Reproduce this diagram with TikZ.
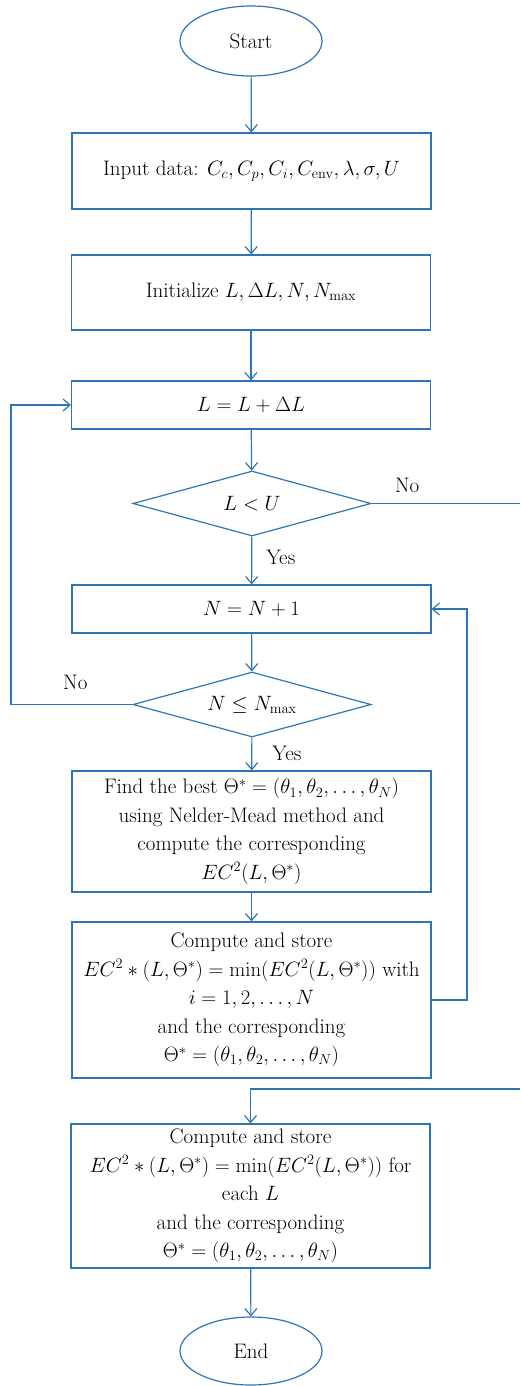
\documentclass[tikz,border=0pt]{standalone}
\usepackage{tikz}
\usetikzlibrary{shapes.geometric,arrows.meta}
\definecolor{flowblue}{RGB}{46,117,182}
\tikzset{
	procbox/.style={draw=flowblue, line width=1.2pt, rectangle, minimum width=359pt, inner sep=0pt, align=center, font=\fontsize{21}{28.5}\selectfont},
	decbox/.style={draw=flowblue, line width=1.2pt, diamond, aspect=3.66, minimum width=238pt, minimum height=65pt, inner sep=0pt, font=\fontsize{21}{25}\selectfont},
	termbox/.style={draw=flowblue, line width=1.2pt, ellipse, minimum width=142pt, minimum height=70pt, inner sep=0pt, font=\fontsize{21}{25}\selectfont},
	flow/.style={draw=flowblue, line width=1.2pt, -{Straight Barb[length=7pt,width=12pt]}},
	plain/.style={draw=flowblue, line width=1.2pt},
	lbl/.style={font=\fontsize{21}{25}\selectfont, inner sep=0pt}
}

\begin{document}
\begin{tikzpicture}[x=1pt, y=-1pt]
			%%%%% START %%%%%
			
			\useasboundingbox (0, 0) rectangle (520, 1386);
			
			\node[termbox] (start) at (251, 41) {Start};
			\node[procbox, minimum height=76pt] (input) at (251.5, 171) {Input data: $C_c, C_p, C_i, C_{\mathrm{env}}, \lambda, \sigma, U$};
			\node[procbox, minimum height=75pt] (init) at (251, 292.5) {Initialize $L, \Delta L, N, N_{\max}$};
			\node[procbox, minimum height=48pt] (incL) at (251, 405) {$L = L + \Delta L$};
			\node[decbox] (chkL) at (252, 503.5) {$L < U$};
			\node[procbox, minimum height=48pt] (incN) at (251.5, 609) {$N = N + 1$};
			\node[decbox] (chkN) at (252, 704.5) {$N \leq N_{\max}$};
			
			\node[procbox, minimum height=121pt] (find) at (251.5, 831.5) {Find the best $\Theta^\ast = (\theta_1, \theta_2, \ldots, \theta_N)$\\ using Nelder-Mead method and\\ compute the corresponding\\ $EC^2(L, \Theta^\ast)$};
			\node[procbox, minimum height=156pt] (store) at (251.5, 1000) {Compute and store\\ $EC^2 \ast (L, \Theta^\ast) = \min\bigl(EC^2(L, \Theta^\ast)\bigr)$ with\\ $i = 1, 2, \ldots, N$\\ and the corresponding\\ $\Theta^\ast = (\theta_1, \theta_2, \ldots, \theta_N)$};
			\node[procbox, minimum height=144pt] (final) at (250.5, 1196) {Compute and store\\ $EC^2 \ast (L, \Theta^\ast) = \min\bigl(EC^2(L, \Theta^\ast)\bigr)$ for\\ each $L$\\ and the corresponding\\ $\Theta^\ast = (\theta_1, \theta_2, \ldots, \theta_N)$};
			\node[termbox, minimum height=68pt] (stop) at (251, 1351) {End};
			
			\coordinate (lBend) at (11, 704.5);
			\coordinate (rBend) at (467, 1000);
			\coordinate (rEdgeA) at (520, 503.5);
			\coordinate (rEdgeB) at (520, 1089);
			
			\draw[flow] (start) -- (input);
			\draw[flow] (input) -- (init);
			\draw[flow] (init) -- (incL);
			\draw[flow] (incL) -- (chkL);
			\draw[flow] (chkL) -- (incN) node[lbl, midway, right=14pt, yshift=3pt] {Yes};
			\draw[flow] (incN) -- (chkN);
			\draw[flow] (chkN) -- (find) node[lbl, midway, right=20pt, yshift=1pt] {Yes};
			\draw[flow] (find) -- (store);
			
			\draw[plain] (chkL.east) -- (rEdgeA) node[lbl, pos=0.24, above=10pt] {No};
			\draw[flow] (chkN.west) -- (lBend) node[lbl, pos=0.47, above=14pt] {No} |- (incL.west);
			\draw[flow] (store.east) -- (rBend) |- (incN.east);
			\draw[flow] (rEdgeB) -| (final.north);
			\draw[flow] (final) -- (stop);
			
			%%%%% END %%%%%
		\end{tikzpicture}
\end{document}
